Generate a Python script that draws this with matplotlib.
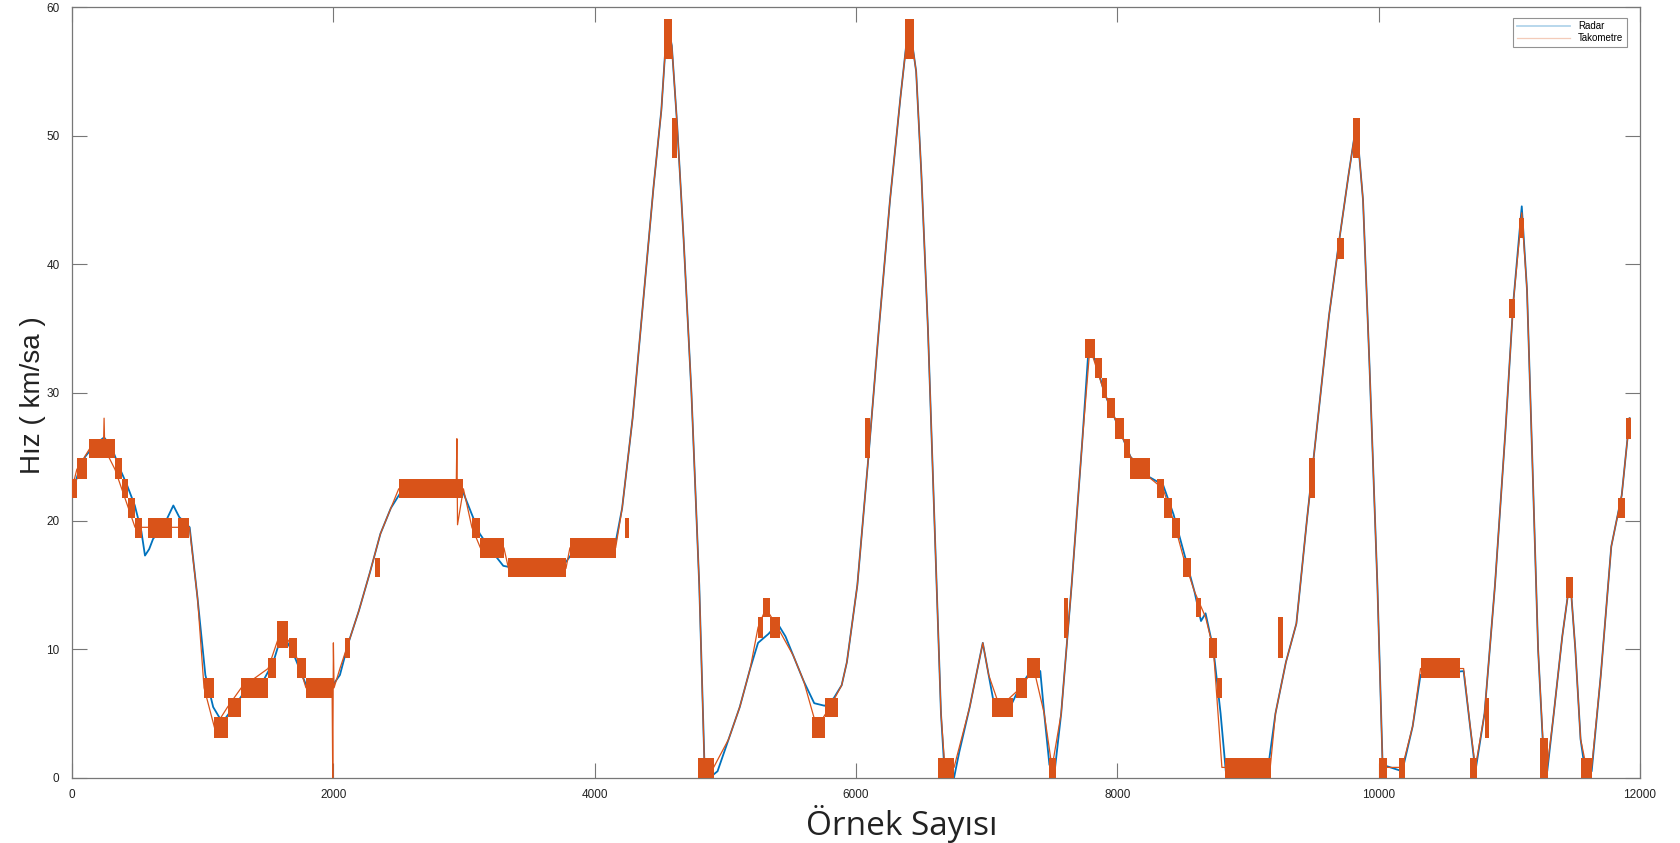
import numpy as np
import matplotlib
matplotlib.use('Agg')
import matplotlib.pyplot as plt

# radar speed trace (sample no, km/h)
radar_x = [0, 40, 100, 180, 245, 300, 360, 420, 480, 530, 558, 590, 620, 700, 775, 820, 900,
           960, 1020, 1080, 1150, 1230, 1300, 1450, 1540, 1600, 1650, 1700, 1760, 1800, 1950, 1995,
           2050, 2115, 2195, 2280, 2360, 2440, 2520, 2800, 2990, 3060, 3120, 3200, 3300, 3400, 3600,
           3780, 3850, 4150, 4210, 4290, 4370, 4450, 4510, 4555, 4590, 4630, 4680, 4740, 4800, 4840,
           4880, 4940, 5025, 5110, 5190, 5250, 5330, 5400, 5460, 5520, 5600, 5680, 5760, 5830, 5890,
           5930, 6010, 6095, 6175, 6260, 6340, 6405, 6460, 6500, 6550, 6600, 6650, 6680, 6750, 6790,
           6870, 6940, 6970, 7015, 7060, 7180, 7250, 7350, 7410, 7440, 7480, 7520, 7570, 7650, 7730,
           7780, 7830, 7900, 8000, 8100, 8230, 8350, 8430, 8510, 8590, 8640, 8675, 8735, 8790, 8830,
           9150, 9210, 9290, 9370, 9450, 9535, 9620, 9700, 9770, 9830, 9880, 9930, 9990, 10030, 10180,
           10260, 10320, 10650, 10700, 10740, 10810, 10890, 10970, 11030, 11095, 11135, 11175, 11220,
           11260, 11290, 11340, 11405, 11465, 11505, 11545, 11580, 11630, 11700, 11780, 11860, 11920]
radar_y = [22, 23.5, 25, 26, 26.5, 25.8, 24.2, 22.8, 21.2, 19.2, 17.3, 17.8, 18.6, 19.6, 21.2, 20.3, 19.5,
           14, 8, 5.5, 4.3, 5.4, 6.4, 7.3, 9, 11, 10.5, 9.5, 8, 7, 6.8, 7.2,
           8, 10.5, 13, 16, 19, 21, 22.3, 22.6, 22.3, 20.5, 19, 17.8, 16.5, 16.3, 16.5,
           16.8, 17.8, 17.8, 21, 28, 37, 46, 52, 59, 57, 51, 42, 30, 15, 1,
           0, 0.5, 3, 5.5, 8.5, 10.5, 11.2, 12, 11, 9.5, 7.5, 5.8, 5.6, 6.2, 7.2,
           9, 15, 25, 35, 45, 53, 59, 55, 47, 35, 20, 5, 0, 0, 2,
           5.5, 9, 10.5, 8, 5.5, 5.5, 7, 8.5, 8.3, 5, 1, 0.5, 5, 15, 26,
           33.5, 32.5, 30, 27.5, 25, 23.5, 22.8, 20.5, 17.5, 14.5, 12.2, 12.8, 10, 5, 0.5,
           0.5, 5, 9, 12, 20, 28, 36, 42, 47, 51, 45, 32, 15, 1, 0.5,
           4, 8, 8.3, 4, 0.5, 5, 15, 27, 37, 44.5, 38, 25, 10,
           2, 0.5, 5, 11, 15.5, 10, 3, 0.5, 0.5, 8, 18, 22, 28]

# tachometer trace (quantised readings)
tako_x = [0, 36, 133, 240, 245, 250, 329, 380, 431, 482, 898, 960, 1010, 1090, 1190, 1295, 1500,
          1600, 1700, 1790, 1990, 1995, 2000, 2005, 2050, 2115, 2195, 2280, 2360, 2440, 2500, 2940,
          2945, 2950, 2995, 3060, 3125, 3305, 3340, 3780, 3810, 4160, 4210, 4290, 4370, 4450, 4510,
          4555, 4590, 4630, 4680, 4740, 4800, 4840, 4910, 5025, 5110, 5190, 5250, 5310, 5400, 5520,
          5600, 5700, 5800, 5890, 5930, 6010, 6095, 6175, 6260, 6340, 6405, 6460, 6500, 6550, 6600,
          6650, 6680, 6750, 6870, 6940, 6970, 7015, 7100, 7260, 7360, 7440, 7500, 7570, 7650, 7730,
          7790, 7900, 8000, 8100, 8230, 8350, 8430, 8510, 8590, 8675, 8735, 8800, 9170, 9210, 9290,
          9370, 9450, 9535, 9620, 9700, 9770, 9830, 9880, 9930, 9990, 10030, 10180, 10260, 10320,
          10650, 10700, 10740, 10810, 10890, 10970, 11030, 11095, 11135, 11175, 11220, 11260, 11290,
          11340, 11405, 11465, 11505, 11545, 11590, 11630, 11700, 11780, 11860, 11920]
tako_y = [22.5, 24, 25.6, 25.6, 28, 25.6, 24, 22.5, 21, 19.5, 19.5, 14, 7, 3.9, 5.5, 7, 8.5,
          11.5, 10, 7, 7, 0, 10.5, 7, 8.5, 10.5, 13, 16, 19, 21, 22.5, 22.5,
          26.4, 19.7, 22.5, 19.5, 17.9, 17.9, 16.3, 16.3, 17.9, 17.9, 21, 28, 37, 46, 52,
          59, 57, 51, 42, 30, 15, 0.8, 0.8, 3, 5.5, 8.5, 11.7, 13.2, 11.7, 9.5,
          7.5, 3.9, 5.5, 7.2, 9, 15, 25, 35, 45, 53, 59, 55, 47, 35, 20,
          5, 0.8, 0.8, 5.5, 9, 10.5, 8, 5.5, 7, 8.5, 5, 0.8, 5, 15, 26,
          33.5, 30, 27.5, 25, 23.5, 22.5, 20, 17, 14.5, 12.5, 10, 0.8, 0.8, 5, 9,
          12, 20, 28, 36, 42, 47, 51, 45, 32, 15, 0.8, 0.8, 4, 8.5,
          8.5, 4, 0.8, 5, 15, 27, 37, 44, 38, 25, 10, 2.3, 0.8,
          5, 11, 15.5, 10, 3, 0.8, 0.8, 8, 18, 22, 28]

# regions where the tachometer flickers between two adjacent levels
band_x0 = [0, 36, 133, 329, 380, 431, 482, 584, 814, 1010, 1090, 1190, 1295, 1500, 1570, 1660, 1720,
           1790, 2500, 3060, 3125, 3340, 3810, 4790, 5250, 5290, 5340, 5660, 5765, 6630, 7040, 7225,
           7310, 7475, 7750, 7830, 7880, 7920, 7980, 8050, 8100, 8300, 8360, 8420, 8500, 8600, 8700,
           8760, 8827, 10003, 10155, 10325, 10700, 11235, 11550,
           4530, 4595, 6375, 6070, 9470, 9680, 9805, 11000, 11075, 11435, 11830, 11895, 2090, 2320,
           4230, 7590, 9230, 10810]
band_x1 = [36, 117, 329, 380, 431, 482, 533, 763, 898, 1090, 1190, 1295, 1500, 1560, 1650, 1720, 1790,
           2000, 2995, 3125, 3305, 3780, 4160, 4910, 5290, 5340, 5420, 5765, 5865, 6750, 7200, 7310,
           7410, 7530, 7830, 7880, 7920, 7980, 8050, 8100, 8250, 8360, 8420, 8480, 8560, 8640, 8760,
           8800, 9176, 10060, 10200, 10620, 10755, 11295, 11630,
           4590, 4630, 6440, 6105, 9515, 9735, 9855, 11045, 11115, 11485, 11885, 11930, 2130, 2360,
           4265, 7625, 9270, 10845]
band_lo = [21.8, 23.3, 24.9, 23.3, 21.8, 20.2, 18.7, 18.7, 18.7, 6.2, 3.1, 4.7, 6.2, 7.8, 10.1, 9.3, 7.8,
           6.2, 21.8, 18.7, 17.1, 15.6, 17.1, 0, 10.9, 12.5, 10.9, 3.1, 4.7, 0, 4.7, 6.2,
           7.8, 0, 32.7, 31.1, 29.6, 28.0, 26.4, 24.9, 23.3, 21.8, 20.2, 18.7, 15.6, 12.5, 9.3,
           6.2, 0, 0, 0, 7.8, 0, 0, 0,
           56.0, 48.3, 56.0, 24.9, 21.8, 40.4, 48.3, 35.8, 42.0, 14.0, 20.2, 26.4, 9.3, 15.6,
           18.7, 10.9, 9.3, 3.1]
band_hi = [23.3, 24.9, 26.4, 24.9, 23.3, 21.8, 20.2, 20.2, 20.2, 7.8, 4.7, 6.2, 7.8, 9.3, 12.2, 10.9, 9.3,
           7.8, 23.3, 20.2, 18.7, 17.1, 18.7, 1.55, 12.5, 14.0, 12.5, 4.7, 6.2, 1.55, 6.2, 7.8,
           9.3, 1.55, 34.2, 32.7, 31.1, 29.6, 28.0, 26.4, 24.9, 23.3, 21.8, 20.2, 17.1, 14.0, 10.9,
           7.8, 1.55, 1.55, 1.55, 9.3, 1.55, 3.1, 1.55,
           59.1, 51.4, 59.1, 28.0, 24.9, 42.0, 51.4, 37.3, 43.6, 15.6, 21.8, 28.0, 10.9, 17.1,
           20.2, 14.0, 12.5, 6.2]

x_ticks = [0, 2000, 4000, 6000, 8000, 10000, 12000]
y_ticks = [0, 10, 20, 30, 40, 50, 60]

blue = '#0072BD'
orange = '#D95319'

plt.rcParams['font.family'] = ['Liberation Sans', 'DejaVu Sans']

fig = plt.figure(figsize=(16.8, 8.43), dpi=100)
ax = fig.add_axes([0.0429, 0.0775, 0.9333, 0.9138])

ax.plot(radar_x, radar_y, color=blue, lw=1.3, label='Radar', zorder=2)
ax.plot(tako_x, tako_y, color=orange, lw=0.9, label='Takometre', zorder=3)
widths = np.subtract(band_x1, band_x0)
heights = np.subtract(band_hi, band_lo)
ax.bar(band_x0, heights, width=widths, bottom=band_lo, align='edge',
       color=orange, linewidth=0, zorder=3)

ax.set_xlim(0, 12000)
ax.set_ylim(0, 60)
ax.set_xticks(x_ticks)
ax.set_yticks(y_ticks)
ax.tick_params(direction='in', length=11, width=0.8, color='#777777', labelsize=8.5,
               top=True, right=True, labelcolor='#222222')
ax.tick_params(axis='x', pad=8)
ax.tick_params(axis='y', pad=9)
for sp in ax.spines.values():
    sp.set_color('#777777')
    sp.set_linewidth(0.9)

leg = ax.legend(loc='upper right', fontsize=7, frameon=True, fancybox=False,
                edgecolor='#777777', handlelength=5.5, borderpad=0.35, labelspacing=0.25,
                handletextpad=0.8, bbox_to_anchor=(0.9945, 0.993))
leg.get_frame().set_linewidth(0.8)
for h in leg.get_lines():
    h.set_alpha(0.3)

fig.text(0.0195, 0.531, 'Hız ( km/sa )', rotation=90, fontsize=20, color='#222222',
         ha='center', va='center')
fig.text(0.537, 0.022, 'Örnek Sayısı', family=['Open Sans', 'DejaVu Sans'], fontsize=24,
         color='#222222', ha='center', va='center')

fig.savefig('out.png', dpi=100, facecolor='white')
